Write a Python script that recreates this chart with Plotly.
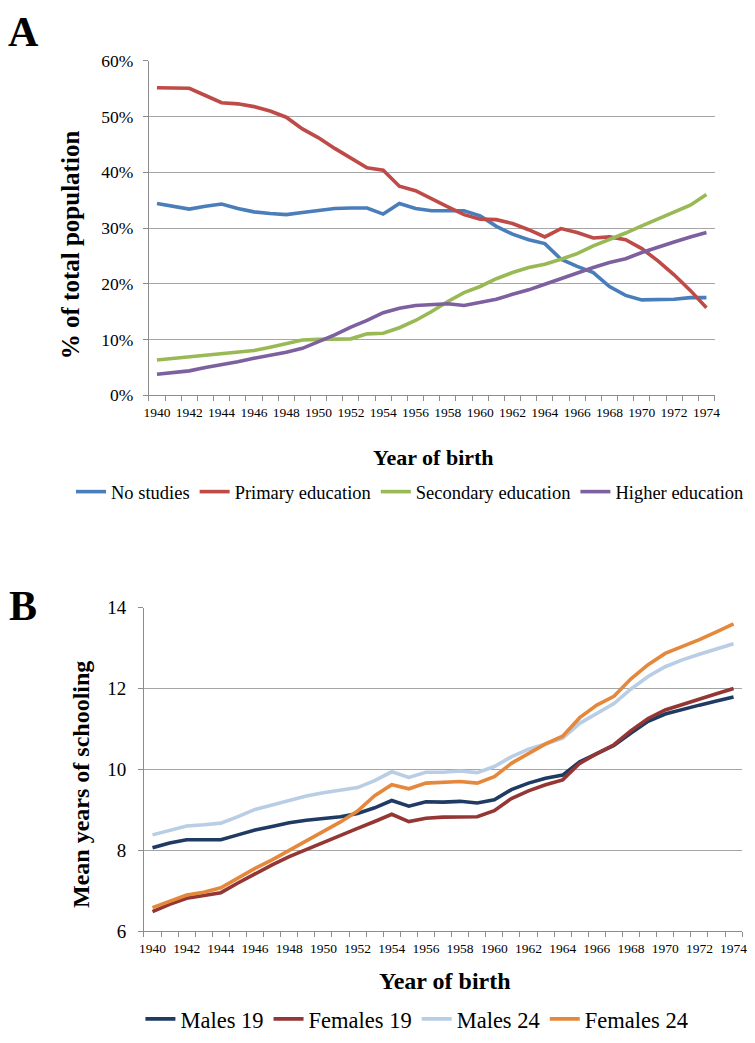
import plotly.graph_objects as go

years = list(range(1940, 1975))
year_ticks = list(range(1940, 1975, 2))

# panel A, % of total population
no_studies = [34.4, 33.9, 33.4, 33.9, 34.3, 33.5, 32.9, 32.6, 32.4, 32.8, 33.2, 33.5, 33.6, 33.6,
              32.5, 34.4, 33.5, 33.1, 33.1, 33.1, 32.2, 30.3, 28.9, 27.9, 27.2, 24.4, 23.1, 22.0,
              19.5, 17.9, 17.1, 17.1, 17.2, 17.5, 17.5]
primary = [55.2, 55.1, 55.1, 53.8, 52.5, 52.3, 51.8, 51.0, 49.9, 47.8, 46.2, 44.3, 42.5, 40.8,
           40.4, 37.5, 36.7, 35.2, 33.8, 32.4, 31.6, 31.5, 30.8, 29.7, 28.4, 29.9, 29.2, 28.2,
           28.4, 27.9, 26.3, 24.1, 21.6, 18.8, 15.7]
secondary = [6.3, 6.6, 6.85, 7.1, 7.4, 7.7, 8.0, 8.6, 9.2, 9.9, 10.0, 10.1, 10.1, 11.0,
             11.1, 12.1, 13.4, 15.0, 16.8, 18.4, 19.5, 20.9, 22.0, 22.9, 23.5, 24.4, 25.4, 26.8,
             27.9, 29.1, 30.4, 31.6, 32.9, 34.1, 36.0]
higher = [3.75, 4.05, 4.35, 4.95, 5.4, 6.0, 6.6, 7.1, 7.7, 8.4, 9.6, 10.8, 12.2, 13.4,
          14.8, 15.6, 16.1, 16.3, 16.4, 16.1, 16.6, 17.2, 18.1, 18.9, 19.9, 20.9, 22.0, 22.9,
          23.8, 24.5, 25.6, 26.6, 27.5, 28.4, 29.2]

# panel B, mean years of schooling
males19 = [8.06, 8.18, 8.26, 8.26, 8.26, 8.38, 8.50, 8.59, 8.68, 8.74, 8.79, 8.83, 8.91, 9.05,
           9.23, 9.09, 9.20, 9.19, 9.21, 9.17, 9.25, 9.50, 9.66, 9.78, 9.86, 10.19, 10.39, 10.59,
           10.90, 11.19, 11.37, 11.49, 11.59, 11.69, 11.79]
females19 = [6.48, 6.66, 6.81, 6.88, 6.95, 7.19, 7.42, 7.64, 7.84, 8.02, 8.20, 8.36, 8.54, 8.71,
             8.89, 8.71, 8.79, 8.82, 8.83, 8.83, 8.98, 9.28, 9.47, 9.62, 9.74, 10.15, 10.39, 10.61,
             10.96, 11.26, 11.47, 11.61, 11.73, 11.87, 12.00]
males24 = [8.38, 8.49, 8.60, 8.63, 8.67, 8.83, 9.01, 9.12, 9.23, 9.34, 9.42, 9.48, 9.55, 9.72,
           9.94, 9.80, 9.93, 9.93, 9.96, 9.92, 10.07, 10.31, 10.50, 10.63, 10.77, 11.14, 11.39, 11.63,
           11.99, 12.30, 12.54, 12.71, 12.85, 12.99, 13.11]
females24 = [6.58, 6.74, 6.89, 6.96, 7.07, 7.31, 7.55, 7.76, 8.00, 8.23, 8.47, 8.70, 8.97, 9.35,
             9.62, 9.52, 9.66, 9.68, 9.70, 9.66, 9.82, 10.15, 10.39, 10.63, 10.82, 11.28, 11.59, 11.81,
             12.24, 12.59, 12.87, 13.03, 13.21, 13.40, 13.60]

serif = "Liberation Serif"
W, H = 755, 1043

series_a = [("No studies", no_studies, "#4A7EBB"),
            ("Primary education", primary, "#BE4B48"),
            ("Secondary education", secondary, "#98B954"),
            ("Higher education", higher, "#7D60A0")]
series_b = [("Males 19", males19, "#1F3B63"),
            ("Females 19", females19, "#943634"),
            ("Males 24", males24, "#B9CDE5"),
            ("Females 24", females24, "#E5883C")]

fig = go.Figure()
for name, vals, col in series_a:
    fig.add_trace(go.Scatter(x=years, y=vals, name=name, mode="lines",
                             line=dict(color=col, width=3.6),
                             xaxis="x", yaxis="y", legend="legend"))
for name, vals, col in series_b:
    fig.add_trace(go.Scatter(x=years, y=vals, name=name, mode="lines",
                             line=dict(color=col, width=3.6),
                             xaxis="x2", yaxis="y2", legend="legend2"))

axis_col = "#8C8C8C"
xcommon = dict(range=[1939.5, 1974.5], tickvals=year_ticks, ticks="", showgrid=False,
               showline=True, linecolor=axis_col, linewidth=1, zeroline=False,
               tickfont=dict(family=serif, size=13.5, color="black"), ticklabelstandoff=5,
               minor=dict(ticks="outside", tick0=1939.5, dtick=1, ticklen=5,
                          tickcolor=axis_col, showgrid=False))
ycommon = dict(showgrid=True, gridcolor="#A6A6A6", gridwidth=1, showline=True, linecolor=axis_col,
               linewidth=1, zeroline=False, ticks="outside", ticklen=5, tickcolor=axis_col)

fig.update_layout(
    width=W, height=H, autosize=False,
    margin=dict(l=0, r=0, t=0, b=0),
    paper_bgcolor="white", plot_bgcolor="white",
    font=dict(family=serif, color="black"),
    xaxis=dict(domain=[146 / W, 720 / W], anchor="y", **xcommon),
    yaxis=dict(domain=[1 - 393 / H, 1 - 52 / H], anchor="x", range=[0, 60], dtick=10,
               ticksuffix="%", ticklabelstandoff=6,
               tickfont=dict(family=serif, size=17.5, color="black"), **ycommon),
    xaxis2=dict(domain=[141 / W, 748 / W], anchor="y2", **xcommon),
    yaxis2=dict(domain=[1 - 940 / H, 1 - 610 / H], anchor="x2", range=[6, 14], dtick=2,
                ticklabelstandoff=8,
                tickfont=dict(family=serif, size=19, color="black"), **ycommon),
    legend=dict(orientation="h", x=411 / W, y=1 - 492 / H, xanchor="center", yanchor="middle",
                font=dict(family=serif, size=18.5, color="black"), itemwidth=30,
                bgcolor="rgba(0,0,0,0)"),
    legend2=dict(orientation="h", x=418 / W, y=1 - 1030 / H, xanchor="center", yanchor="middle",
                 font=dict(family=serif, size=22.5, color="black"), itemwidth=30,
                 bgcolor="rgba(0,0,0,0)"),
    showlegend=True,
)

# panel letters and axis titles
ann = [
    ("A", 19, 22, 42, 0),
    ("B", 18, 608, 42, 0),
    ("% of total population", 66, 240, 25, -90),
    ("Year of birth", 435, 457, 22, 0),
    ("Mean years of schooling", 77, 790, 24, -90),
    ("Year of birth", 447, 991, 24, 0),
]
for text, px, py, size, ang in ann:
    fig.add_annotation(x=px / W, y=1 - py / H, xref="paper", yref="paper", text="<b>" + text + "</b>",
                       showarrow=False, textangle=ang, xanchor="center", yanchor="middle",
                       font=dict(family=serif, size=size, color="black"))

fig.write_html("out.html", config={"displayModeBar": False},
               post_script="document.body.style.margin='0';document.body.style.overflow='hidden';")
